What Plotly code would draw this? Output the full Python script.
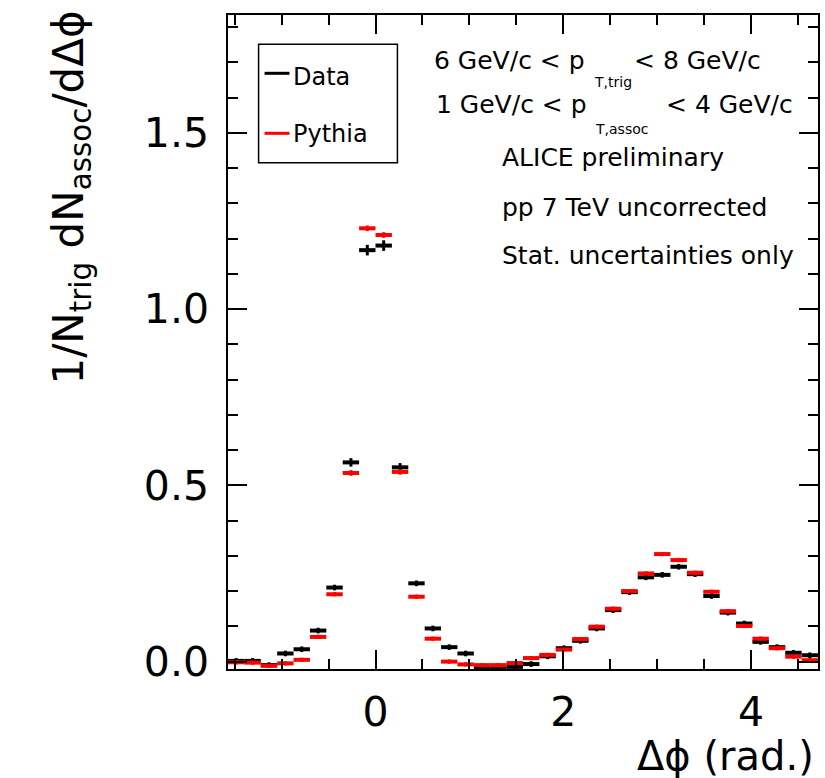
import numpy as np
import plotly.graph_objects as go

# Delta-phi binning: 36 uniform bins over [-pi/2, 3pi/2]
N_BINS = 36
PHI_MIN, PHI_MAX = -np.pi / 2, 3 * np.pi / 2
edges = np.linspace(PHI_MIN, PHI_MAX, N_BINS + 1)
centers = 0.5 * (edges[:-1] + edges[1:])
half_width = 0.5 * (edges[1] - edges[0])

# 1/N_trig dN_assoc/dDphi per bin
data_vals = [0.002, 0.002, -0.010, 0.023, 0.035, 0.088, 0.210, 0.565, 1.167, 1.180,
             0.551, 0.222, 0.094, 0.041, 0.023, -0.016, -0.016, -0.015, -0.007, 0.015,
             0.038, 0.059, 0.094, 0.146, 0.197, 0.239, 0.246, 0.269, 0.248, 0.186,
             0.139, 0.108, 0.056, 0.041, 0.025, 0.018]
data_errs = [0.008] * 7 + [0.012, 0.015, 0.015, 0.012] + [0.008] * 25

pythia_vals = [-0.002, -0.003, -0.012, -0.005, 0.005, 0.070, 0.191, 0.535, 1.229, 1.210,
               0.538, 0.184, 0.065, 0.000, -0.008, -0.010, -0.010, -0.004, 0.010, 0.019,
               0.034, 0.064, 0.099, 0.150, 0.200, 0.250, 0.305, 0.288, 0.252, 0.198,
               0.143, 0.101, 0.065, 0.038, 0.014, 0.004]
pythia_errs = [0.006] * 7 + [0.008, 0.008, 0.008, 0.008] + [0.006] * 25

x_ticks = [0, 2, 4]
y_ticks = [0.0, 0.5, 1.0, 1.5]
y_tick_text = ["0.0", "0.5", "1.0", "1.5"]

FONT = "DejaVu Sans"
W, H = 825, 778
L, R, T, B = 228, 820, 15, 669


def fx(px):
    return (px - L) / (R - L)


def fy(py):
    return (B - py) / (B - T)


def hist_trace(vals, errs, color):
    return go.Scatter(
        x=centers, y=vals, mode="markers",
        marker=dict(size=1, color=color),
        error_x=dict(type="constant", value=half_width, color=color,
                     thickness=4, width=0),
        error_y=dict(type="data", array=errs, color=color,
                     thickness=3, width=0),
        showlegend=False, hoverinfo="skip",
    )


fig = go.Figure()
fig.add_trace(hist_trace(data_vals, data_errs, "black"))
fig.add_trace(hist_trace(pythia_vals, pythia_errs, "#ff0000"))

axis_common = dict(
    showgrid=False, zeroline=False, showline=True, linecolor="black",
    linewidth=1.5, mirror="ticks", ticks="inside", ticklen=19,
    tickwidth=1.5, tickcolor="black",
    tickfont=dict(family=FONT, size=41, color="black"),
)

fig.update_xaxes(
    range=[PHI_MIN, PHI_MAX], tickvals=x_ticks,
    minor=dict(dtick=0.5, ticklen=10, ticks="inside", tickwidth=1.5,
               tickcolor="black"),
    ticklabelstandoff=6,
    **axis_common,
)
fig.update_yaxes(
    range=[-0.021, 1.834], tickvals=y_ticks, ticktext=y_tick_text,
    minor=dict(dtick=0.1, ticklen=10, ticks="inside", tickwidth=1.5,
               tickcolor="black"),
    ticklabelstandoff=9,
    **axis_common,
)

annotations = []


def text(px, py, s, size, xanchor="left", **kw):
    annotations.append(dict(
        x=fx(px), y=fy(py), xref="paper", yref="paper", text=s,
        showarrow=False, xanchor=xanchor, yanchor="middle",
        font=dict(family=FONT, size=size, color="black"), **kw))


# axis titles
text(70, 198, "1/N<sub>trig</sub> dN<sub>assoc</sub>/dΔϕ", 42,
     xanchor="center", textangle=-90)
text(818, 756, "Δϕ (rad.)", 40, xanchor="right")

# kinematic selection and labels
text(433, 60, "6 GeV/c < p", 25)
text(593, 82, "T,trig", 14)
text(633, 60, "< 8 GeV/c", 25)
text(435, 105, "1 GeV/c < p", 25)
text(594, 129, "T,assoc", 14)
text(665, 105, "< 4 GeV/c", 25)
text(501, 158, "ALICE preliminary", 25)
text(501, 208, "pp 7 TeV uncorrected", 25)
text(501, 256, "Stat. uncertainties only", 25)

# legend
text(291, 77, "Data", 24)
text(291, 134, "Pythia", 24)

shapes = [
    dict(type="rect", xref="paper", yref="paper",
         x0=fx(258.7), x1=fx(398), y0=fy(162.7), y1=fy(44.3),
         line=dict(color="black", width=1.5), fillcolor="rgba(0,0,0,0)"),
    dict(type="line", xref="paper", yref="paper",
         x0=fx(264.7), x1=fx(289.7), y0=fy(73.3), y1=fy(73.3),
         line=dict(color="black", width=3)),
    dict(type="line", xref="paper", yref="paper",
         x0=fx(264.7), x1=fx(289.7), y0=fy(133.3), y1=fy(133.3),
         line=dict(color="#ff0000", width=3)),
]

fig.update_layout(
    width=W, height=H,
    margin=dict(l=L, r=W - R, t=T, b=H - B, pad=0),
    paper_bgcolor="white", plot_bgcolor="white",
    annotations=annotations, shapes=shapes,
    showlegend=False,
)

fig.write_html("out.html")
